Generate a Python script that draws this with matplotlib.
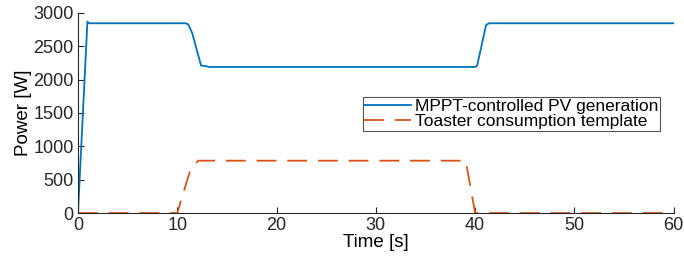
import matplotlib.pyplot as plt

plt.rcParams["font.family"] = ["Liberation Sans", "DejaVu Sans"]

# MPPT-controlled PV generation (breakpoints)
pv_t = [0, 0.95, 1.1, 1.5, 10.8, 11.1, 11.5, 12.4, 12.8, 13.2, 40.0, 40.2, 41.1, 41.4, 41.8, 60]
pv_p = [0, 2870, 2845, 2845, 2845, 2830, 2700, 2210, 2205, 2190, 2190, 2210, 2820, 2845, 2845, 2845]

# Toaster consumption template
toaster_t = [0, 10.0, 11.3, 12.1, 39.05, 40.0, 60]
toaster_p = [0, 0, 640, 785, 785, 0, 0]

fig = plt.figure(figsize=(6.84, 2.64), dpi=100)
ax = fig.add_axes([0.114, 0.193, 0.871, 0.758])

ax.plot(pv_t, pv_p, color="#0072BD", linewidth=1.3, label="MPPT-controlled PV generation")
ax.plot(toaster_t, toaster_p, color="#D95319", linewidth=1.3, dashes=(11, 6),
        label="Toaster consumption template")

ax.set_xlim(0, 60)
ax.set_ylim(0, 3000)
ax.set_xticks(range(0, 61, 10))
ax.set_yticks(range(0, 3001, 500))
ax.set_xlabel("Time [s]", fontsize=13.5, labelpad=0)
ax.set_ylabel("Power [W]", fontsize=13.5, labelpad=1)
ax.tick_params(direction="in", length=4, labelsize=13, colors="#262626", pad=3)
for s in ["top", "right"]:
    ax.spines[s].set_visible(False)
for s in ["left", "bottom"]:
    ax.spines[s].set_color("#262626")

leg = ax.legend(loc="upper left", bbox_to_anchor=(0.478, 0.58), fontsize=12.5,
                frameon=True, fancybox=False, handlelength=2.7, handletextpad=0.2,
                borderpad=0.1, labelspacing=0.0, borderaxespad=0)
leg.get_frame().set_edgecolor("#262626")
leg.get_frame().set_linewidth(0.8)

fig.savefig("out.png", dpi=100)
